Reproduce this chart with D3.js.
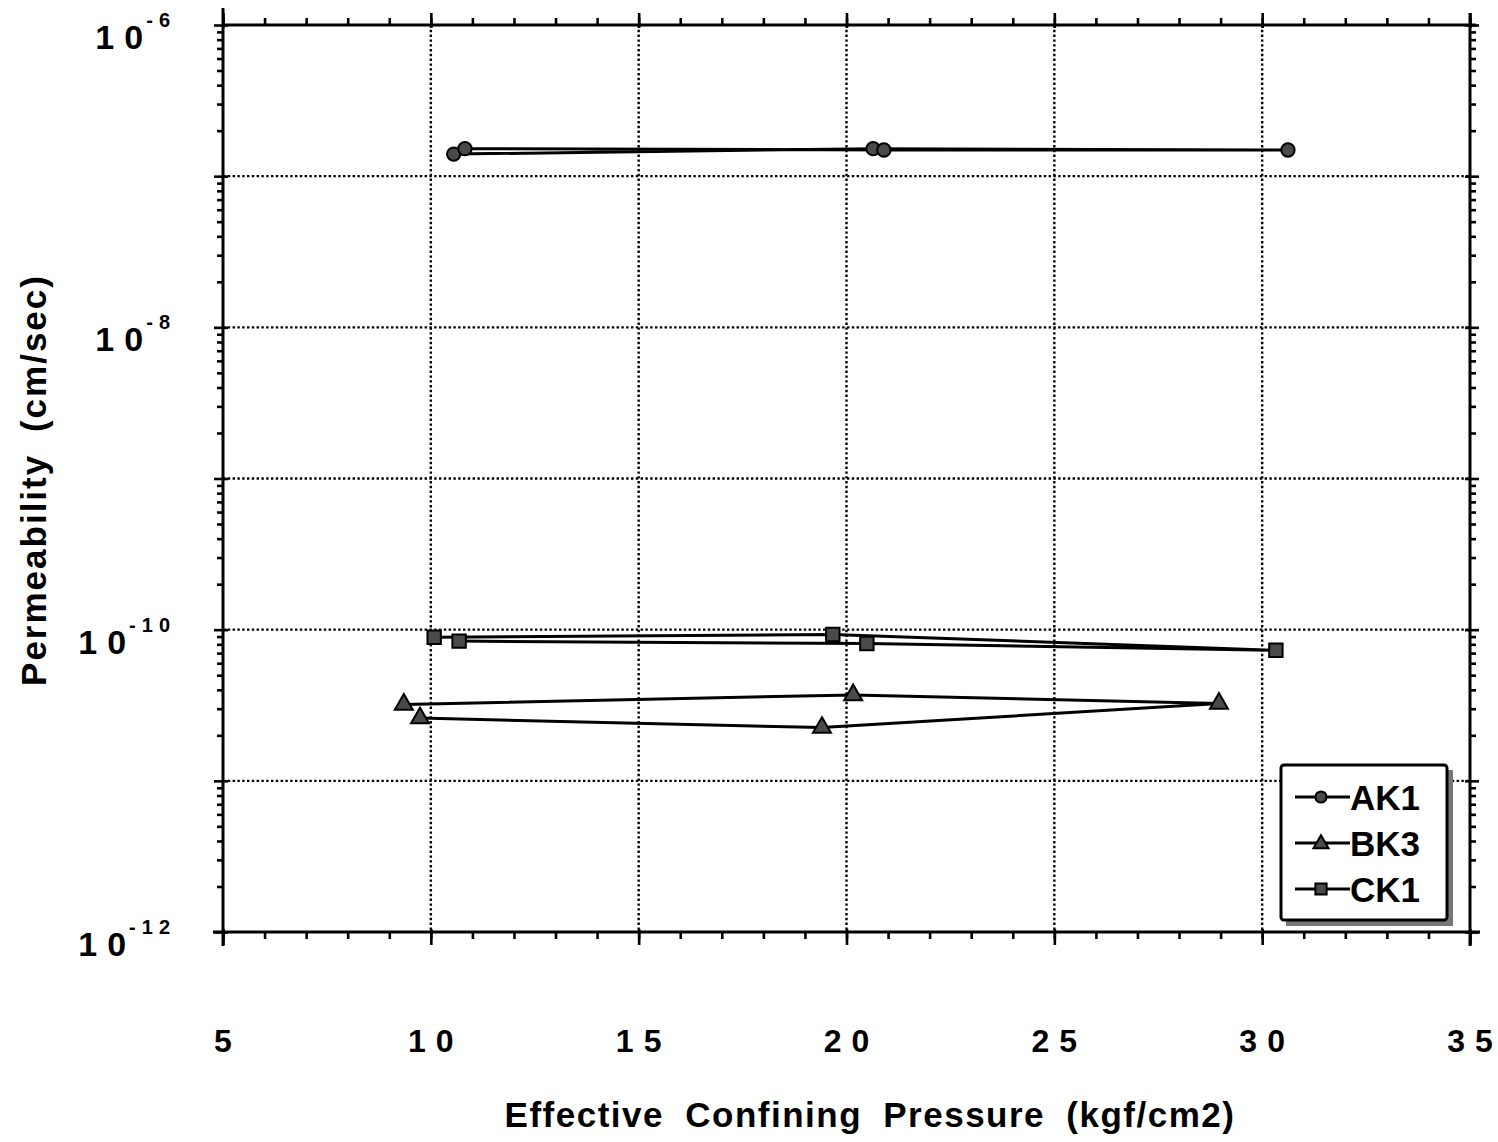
<!DOCTYPE html>
<html>
<head>
<meta charset="utf-8">
<script src="https://cdn.jsdelivr.net/npm/d3@7"></script>
<style>
  html, body { margin: 0; padding: 0; background: #fff; }
  svg { display: block; }
  text { font-family: "Liberation Sans", Arial, sans-serif; font-weight: bold; fill: #000; }
</style>
</head>
<body>
<svg id="chart" width="1498" height="1142"></svg>
<script>
// Permeability measurements at each confining pressure step (load 10 -> 20 -> 30, unload 20 -> 10)
const seriesNames = ["AK1", "BK3", "CK1"];
const pressureAK1 = [10.55, 20.64, 30.62, 20.9, 10.82];
const permAK1     = [1.40e-7, 1.52e-7, 1.49e-7, 1.49e-7, 1.52e-7];
const pressureBK3 = [9.35, 20.16, 28.96, 19.41, 9.74];
const permBK3     = [3.2e-11, 3.7e-11, 3.25e-11, 2.25e-11, 2.6e-11];
const pressureCK1 = [10.08, 19.67, 30.33, 20.49, 10.68];
const permCK1     = [8.9e-11, 9.3e-11, 7.3e-11, 8.1e-11, 8.4e-11];

const xTickValues = [5, 10, 15, 20, 25, 30, 35];
const xTickLabels = ["5", "10", "15", "20", "25", "30", "35"];
const yLabelDecades = [-6, -8, -10, -12];
const yGridDecades = [-7, -8, -9, -10, -11];

const svg = d3.select("#chart");
const x = d3.scaleLinear().domain([5, 35]).range([223, 1470]);
const y = d3.scaleLog().domain([1e-12, 1e-6]).range([932, 25]);

const X0 = x.range()[0], X1 = x.range()[1];
const Y0 = y.range()[0], Y1 = y.range()[1];

// dotted grid
const grid = svg.append("g").attr("stroke", "#000").attr("stroke-width", 2.4)
  .attr("stroke-dasharray", "2.4,2.4");
[10, 15, 20, 25, 30].forEach(v => {
  grid.append("line").attr("x1", x(v)).attr("x2", x(v)).attr("y1", Y1).attr("y2", Y0);
});
yGridDecades.forEach(d => {
  grid.append("line").attr("x1", X0).attr("x2", X1).attr("y1", y(Math.pow(10, d))).attr("y2", y(Math.pow(10, d)));
});

// frame axes, drawn with d3 axes (minor + major ticks)
const unitTicks = d3.range(5, 36, 1);
const majorX = xTickValues;
const minorY = [];
for (let e = -12; e < -6; e++) for (let m = 2; m <= 9; m++) minorY.push(m * Math.pow(10, e));
const majorY = d3.range(-12, -5).map(e => Math.pow(10, e));

function styleAxis(g) {
  g.select(".domain").remove();
  g.selectAll("line").attr("stroke", "#000").attr("stroke-width", 2.6);
  g.selectAll("text").remove();
}
// bottom
svg.append("g").attr("transform", `translate(0,${Y0})`)
  .call(d3.axisBottom(x).tickValues(unitTicks).tickSize(7).tickFormat("")).call(styleAxis);
svg.append("g").attr("transform", `translate(0,${Y0 - 3})`)
  .call(d3.axisBottom(x).tickValues(majorX).tickSize(16).tickFormat("")).call(styleAxis);
// top
svg.append("g").attr("transform", `translate(0,${Y1})`)
  .call(d3.axisTop(x).tickValues(unitTicks).tickSize(7).tickFormat("")).call(styleAxis);
svg.append("g").attr("transform", `translate(0,${Y1 + 3})`)
  .call(d3.axisTop(x).tickValues(majorX).tickSize(15).tickFormat("")).call(styleAxis);
// left
svg.append("g").attr("transform", `translate(${X0},0)`)
  .call(d3.axisLeft(y).tickValues(minorY).tickSize(6).tickFormat("")).call(styleAxis);
svg.append("g").attr("transform", `translate(${X0 + 5},0)`)
  .call(d3.axisLeft(y).tickValues(majorY).tickSize(14).tickFormat("")).call(styleAxis);
// right
svg.append("g").attr("transform", `translate(${X1},0)`)
  .call(d3.axisRight(y).tickValues(minorY).tickSize(6).tickFormat("")).call(styleAxis);
svg.append("g").attr("transform", `translate(${X1 - 5},0)`)
  .call(d3.axisRight(y).tickValues(majorY).tickSize(14).tickFormat("")).call(styleAxis);

// frame lines (slightly overshooting at corners)
const frame = svg.append("g").attr("stroke", "#000").attr("stroke-width", 3);
frame.append("line").attr("x1", X0 - 10).attr("x2", X1 + 10).attr("y1", Y0).attr("y2", Y0);
frame.append("line").attr("x1", X0).attr("x2", X1 + 6).attr("y1", Y1).attr("y2", Y1);
frame.append("line").attr("x1", X0).attr("x2", X0).attr("y1", Y1 - 17).attr("y2", Y0 + 14);
frame.append("line").attr("x1", X1).attr("x2", X1).attr("y1", Y1 - 12).attr("y2", Y0 + 14);

// spaced-out digits: each character is its own tspan, separated by dx
function spacedText(sel, str, gap) {
  str.split("").forEach((ch, i) => {
    sel.append("tspan").attr("dx", i === 0 ? 0 : gap).text(ch);
  });
}

// x tick labels
const xl = svg.append("g");
xTickValues.forEach((v, i) => {
  const t = xl.append("text").attr("x", x(v)).attr("y", 1052)
    .attr("text-anchor", "middle").attr("font-size", 32);
  spacedText(t, xTickLabels[i], 10);
});

// y tick labels: 10 with superscript exponent, right-aligned at the same edge
const yl = svg.append("g");
yLabelDecades.forEach(e => {
  const yy = y(Math.pow(10, e));
  const ex = yl.append("text").attr("x", 170).attr("y", yy + 2)
    .attr("text-anchor", "end").attr("font-size", 20);
  spacedText(ex, "-" + (-e), 6);
  const bb = ex.node().getBBox();
  const base = yl.append("text").attr("x", bb.x - 3).attr("y", yy + 24)
    .attr("text-anchor", "end").attr("font-size", 34);
  spacedText(base, "10", 10);
});

// axis titles
svg.append("text").attr("x", 870).attr("y", 1127).attr("text-anchor", "middle")
  .attr("font-size", 35).attr("word-spacing", 10).attr("letter-spacing", 1.5)
  .text("Effective Confining Pressure (kgf/cm2)");
svg.append("text").attr("transform", "translate(46,480) rotate(-90)").attr("text-anchor", "middle")
  .attr("font-size", 35).attr("word-spacing", 10).attr("letter-spacing", 2)
  .text("Permeability (cm/sec)");

// series
const series = [
  { name: "AK1", px: pressureAK1, py: permAK1, shape: "circle" },
  { name: "BK3", px: pressureBK3, py: permBK3, shape: "triangle" },
  { name: "CK1", px: pressureCK1, py: permCK1, shape: "square" }
];
const line = d3.line().x(d => x(d[0])).y(d => y(d[1]));
const symbolType = { circle: d3.symbolCircle, triangle: d3.symbolTriangle, square: d3.symbolSquare };
const symbolSize = { circle: 140, triangle: 140, square: 180 };

function drawMarker(g, shape, cx, cy, scale) {
  g.append("path")
    .attr("d", d3.symbol().type(symbolType[shape]).size(symbolSize[shape] * (scale || 1))())
    .attr("transform", `translate(${cx},${cy})`)
    .attr("fill", "#4a4a4a").attr("stroke", "#000").attr("stroke-width", 2);
}

const plot = svg.append("g");
series.forEach(s => {
  const pts = s.px.map((v, i) => [v, s.py[i]]);
  plot.append("path").datum(pts).attr("d", line)
    .attr("fill", "none").attr("stroke", "#000").attr("stroke-width", 3);
  pts.forEach(p => drawMarker(plot, s.shape, x(p[0]), y(p[1])));
});

// legend with drop shadow
const lg = svg.append("g");
lg.append("rect").attr("x", 1286).attr("y", 770).attr("width", 167).attr("height", 156)
  .attr("fill", "#777");
lg.append("rect").attr("x", 1281).attr("y", 765).attr("width", 166).attr("height", 155)
  .attr("fill", "#fff").attr("stroke", "#000").attr("stroke-width", 3).attr("rx", 3);
series.forEach((s, i) => {
  const ly = 797 + i * 46;
  lg.append("line").attr("x1", 1295).attr("x2", 1350).attr("y1", ly).attr("y2", ly)
    .attr("stroke", "#000").attr("stroke-width", 3);
  drawMarker(lg, s.shape, 1321, ly + (s.shape === "triangle" ? 1 : 0), 0.7);
  lg.append("text").attr("x", 1350).attr("y", ly + 13).attr("font-size", 35).text(s.name);
});
</script>
</body>
</html>
